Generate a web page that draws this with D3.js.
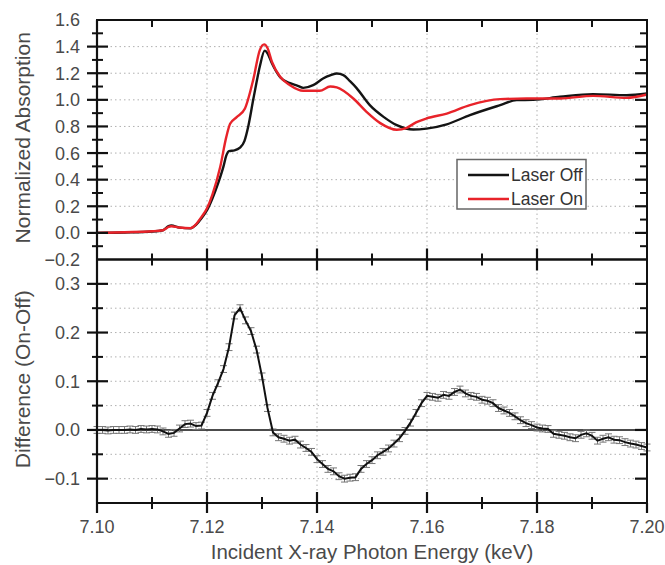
<!DOCTYPE html>
<html>
<head>
<meta charset="utf-8">
<script src="https://cdn.jsdelivr.net/npm/d3@7"></script>
<style>
  html, body { margin: 0; padding: 0; background: #fff; }
  svg { display: block; font-family: "Liberation Sans", Arial, sans-serif; }
</style>
</head>
<body>
<svg id="chart" width="665" height="565"></svg>
<script>
// ---------- DATA ----------
const seriesNames = ["Laser Off", "Laser On"];
const seriesColors = ["#141414", "#e8232a"];

// Laser Off (energy keV, normalized absorption)
const offEnergy = [7.100,7.105,7.110,7.112,7.113,7.1135,7.115,7.117,7.118,7.119,7.120,7.121,7.122,7.123,7.1235,7.124,7.125,7.126,7.1268,7.1275,7.1284,7.129,7.1296,7.1305,7.131,7.1318,7.1333,7.1351,7.1365,7.1375,7.1393,7.1411,7.1425,7.1436,7.1448,7.146,7.1472,7.1496,7.1521,7.1545,7.1575,7.1599,7.1636,7.1678,7.1733,7.1763,7.1793,7.1842,7.1902,7.1963,7.200];
const offValue  = [0.000,0.003,0.010,0.020,0.050,0.055,0.040,0.035,0.060,0.110,0.170,0.260,0.370,0.500,0.580,0.615,0.620,0.640,0.690,0.800,1.000,1.130,1.250,1.370,1.350,1.275,1.170,1.125,1.105,1.090,1.110,1.160,1.185,1.198,1.186,1.140,1.088,0.960,0.872,0.810,0.777,0.784,0.816,0.885,0.960,0.998,1.000,1.023,1.043,1.035,1.048];

// Laser On
const onEnergy = [7.100,7.105,7.110,7.112,7.113,7.1135,7.115,7.117,7.118,7.119,7.120,7.121,7.1224,7.1235,7.1242,7.1254,7.1269,7.1284,7.1296,7.1304,7.131,7.1318,7.1333,7.1351,7.1375,7.1405,7.1424,7.1436,7.1466,7.149,7.1515,7.1545,7.1563,7.158,7.1599,7.1636,7.1678,7.1733,7.1781,7.1842,7.1902,7.1963,7.200];
const onValue  = [0.000,0.005,0.012,0.020,0.045,0.050,0.040,0.036,0.065,0.120,0.185,0.290,0.495,0.720,0.820,0.870,0.935,1.150,1.374,1.417,1.390,1.286,1.173,1.110,1.068,1.068,1.100,1.093,1.010,0.910,0.825,0.775,0.790,0.830,0.860,0.897,0.960,1.005,1.010,1.010,1.030,1.015,1.040];

// Difference (On-Off), sampled every 0.001 keV from 7.100
const diffStart = 7.100, diffStep = 0.001;
const diffValue = [
  0.000,0.000,-0.001,0.000,0.000,0.000,0.001,0.000,0.002,0.001,
  0.002,0.001,-0.003,-0.008,-0.006,0.003,0.012,0.013,0.008,0.009,
  0.035,0.070,0.096,0.125,0.170,0.235,0.250,0.225,0.203,0.165,
  0.110,0.045,-0.005,-0.015,-0.018,-0.022,-0.020,-0.030,-0.037,-0.045,
  -0.060,-0.070,-0.080,-0.085,-0.095,-0.100,-0.098,-0.097,-0.080,-0.070,
  -0.062,-0.052,-0.045,-0.038,-0.028,-0.017,-0.002,0.015,0.035,0.055,
  0.070,0.068,0.066,0.072,0.070,0.078,0.083,0.075,0.070,0.068,
  0.062,0.060,0.055,0.045,0.040,0.035,0.028,0.020,0.014,0.010,
  0.005,0.003,0.002,-0.008,-0.010,-0.012,-0.015,-0.017,-0.010,-0.007,
  -0.012,-0.022,-0.018,-0.015,-0.020,-0.021,-0.025,-0.028,-0.030,-0.033,
  -0.036];
const diffError = 0.007;

const xTicks = [7.10,7.12,7.14,7.16,7.18,7.20];
const xMinorTicks = [7.11,7.13,7.15,7.17,7.19];
const topTicks = [-0.2,0.0,0.2,0.4,0.6,0.8,1.0,1.2,1.4,1.6];
const topMinorTicks = [-0.1,0.1,0.3,0.5,0.7,0.9,1.1,1.3,1.5];
const botTicks = [-0.1,0.0,0.1,0.2,0.3];
const botMinorTicks = [-0.05,0.05,0.15,0.25];

// ---------- LAYOUT ----------
const L = 97, R = 647;
const topY0 = 20, topY1 = 259.5;
const botY0 = 259.5, botY1 = 503;

const svg = d3.select("#chart");
const x = d3.scaleLinear().domain([7.10, 7.20]).range([L, R]);
const yTop = d3.scaleLinear().domain([-0.2, 1.6]).range([topY1, topY0]);
const yBot = d3.scaleLinear().domain([-0.15, 0.35]).range([botY1, botY0]);

const gridColor = "#b0b0b0";
const textColor = "#4a4a4a";

function grid(yScale, yVals, y0, y1) {
  const g = svg.append("g");
  g.selectAll(".hg").data(yVals).join("line")
    .attr("x1", L).attr("x2", R)
    .attr("y1", d => yScale(d)).attr("y2", d => yScale(d))
    .attr("stroke", gridColor).attr("stroke-width", 1).attr("stroke-dasharray", "1.5,3");
  g.selectAll(".vg").data([7.12,7.14,7.16,7.18]).join("line")
    .attr("x1", d => x(d)).attr("x2", d => x(d))
    .attr("y1", y0).attr("y2", y1)
    .attr("stroke", gridColor).attr("stroke-width", 1).attr("stroke-dasharray", "1.5,3");
}

grid(yTop, [0.0,0.2,0.4,0.6,0.8,1.0,1.2,1.4], topY0, topY1);
grid(yBot, [-0.1,-0.05,0.05,0.1,0.15,0.2,0.25,0.3], botY0, botY1);

// zero line in difference panel
svg.append("line").attr("x1", L).attr("x2", R)
  .attr("y1", yBot(0)).attr("y2", yBot(0))
  .attr("stroke", "#111").attr("stroke-width", 1.6);

// ---------- TOP CURVES ----------
const line = d3.line().curve(d3.curveMonotoneX);
const offPts = offEnergy.map((e, i) => [x(e), yTop(offValue[i])]);
const onPts = onEnergy.map((e, i) => [x(e), yTop(onValue[i])]);
svg.append("path").attr("d", line(offPts)).attr("fill", "none")
  .attr("stroke", seriesColors[0]).attr("stroke-width", 2.4);
svg.append("path").attr("d", line(onPts)).attr("fill", "none")
  .attr("stroke", seriesColors[1]).attr("stroke-width", 2.4);

// ---------- DIFFERENCE ----------
const diffPts = diffValue.map((v, i) => ({e: diffStart + i * diffStep, v}));
const eb = svg.append("g").attr("stroke", "#777").attr("stroke-width", 1);
eb.selectAll(".ev").data(diffPts).join("line")
  .attr("x1", d => x(d.e)).attr("x2", d => x(d.e))
  .attr("y1", d => yBot(d.v - diffError)).attr("y2", d => yBot(d.v + diffError));
eb.selectAll(".et").data(diffPts).join("line")
  .attr("x1", d => x(d.e) - 3.5).attr("x2", d => x(d.e) + 3.5)
  .attr("y1", d => yBot(d.v + diffError)).attr("y2", d => yBot(d.v + diffError));
eb.selectAll(".eb").data(diffPts).join("line")
  .attr("x1", d => x(d.e) - 3.5).attr("x2", d => x(d.e) + 3.5)
  .attr("y1", d => yBot(d.v - diffError)).attr("y2", d => yBot(d.v - diffError));
svg.append("path")
  .attr("d", d3.line().x(d => x(d.e)).y(d => yBot(d.v))(diffPts))
  .attr("fill", "none").attr("stroke", "#111").attr("stroke-width", 2);

// ---------- AXES ----------
const ax = svg.append("g").attr("stroke", "#111").attr("stroke-linecap", "butt");
function tickLine(x1, y1, x2, y2, w) {
  ax.append("line").attr("x1", x1).attr("y1", y1).attr("x2", x2).attr("y2", y2)
    .attr("stroke-width", w || 2);
}
// frame
tickLine(L, topY0, L, botY1, 2.2);
tickLine(R, topY0, R, botY1, 2);
tickLine(L - 1, topY0, R + 1, topY0, 2);
tickLine(L - 1, topY1, R + 1, topY1, 2.4);
tickLine(L - 1, botY1, R + 1, botY1, 2.2);

// left y ticks (crossing) and right (inward)
function yTicks(scale, major, minor) {
  major.forEach(v => {
    const yy = scale(v);
    tickLine(L - 10, yy, L + 11, yy, 2.2);
    tickLine(R - 12, yy, R, yy, 2.2);
  });
  minor.forEach(v => {
    const yy = scale(v);
    tickLine(L - 5, yy, L + 6, yy, 2);
    tickLine(R - 7, yy, R, yy, 2);
  });
}
yTicks(yTop, topTicks.filter(v => v > -0.2 && v < 1.6), topMinorTicks);
yTicks(yBot, botTicks, botMinorTicks);

// x ticks
xTicks.filter(v => v > 7.10 && v < 7.20).forEach(v => {
  const xx = x(v);
  tickLine(xx, topY0, xx, topY0 + 12, 2);
  tickLine(xx, topY1 - 11, xx, topY1 + 11, 2.2);
  tickLine(xx, botY1 - 11, xx, botY1 + 10, 2.2);
});
xMinorTicks.forEach(v => {
  const xx = x(v);
  tickLine(xx, topY0, xx, topY0 + 7, 2);
  tickLine(xx, topY1 - 6, xx, topY1 + 6, 2);
  tickLine(xx, botY1 - 6, xx, botY1 + 6, 2);
});
[7.10, 7.20].forEach(v => tickLine(x(v), botY1, x(v), botY1 + 10, 2.2));

// tick labels
const fmt1 = d3.format(".1f"), fmt2 = d3.format(".2f");
svg.append("g").selectAll("text").data(topTicks).join("text")
  .attr("x", 80).attr("y", d => yTop(d)).attr("dy", "0.36em")
  .attr("text-anchor", "end").attr("font-size", 18).attr("fill", textColor)
  .text(d => fmt1(d));
svg.append("g").selectAll("text").data(botTicks).join("text")
  .attr("x", 80).attr("y", d => yBot(d)).attr("dy", "0.36em")
  .attr("text-anchor", "end").attr("font-size", 18).attr("fill", textColor)
  .text(d => fmt1(d));
svg.append("g").selectAll("text").data(xTicks).join("text")
  .attr("x", d => x(d)).attr("y", 533)
  .attr("text-anchor", "middle").attr("font-size", 18).attr("fill", textColor)
  .text(d => fmt2(d));

// axis titles
svg.append("text").attr("x", (L + R) / 2).attr("y", 559)
  .attr("text-anchor", "middle").attr("font-size", 20.5).attr("fill", textColor)
  .text("Incident X-ray Photon Energy (keV)");
svg.append("text").attr("transform", `translate(30,${(topY0 + topY1) / 2 - 2}) rotate(-90)`)
  .attr("text-anchor", "middle").attr("font-size", 21).attr("fill", textColor)
  .text("Normalized Absorption");
svg.append("text").attr("transform", `translate(30,${(botY0 + botY1) / 2 - 2}) rotate(-90)`)
  .attr("text-anchor", "middle").attr("font-size", 21).attr("fill", textColor)
  .text("Difference (On-Off)");

// ---------- LEGEND ----------
const lg = svg.append("g");
lg.append("rect").attr("x", 457).attr("y", 159.5).attr("width", 129).attr("height", 49.5)
  .attr("fill", "#fff").attr("stroke", "#666").attr("stroke-width", 1.5);
seriesNames.forEach((name, i) => {
  const yy = 175 + i * 24;
  lg.append("line").attr("x1", 468).attr("x2", 509).attr("y1", yy).attr("y2", yy)
    .attr("stroke", seriesColors[i]).attr("stroke-width", 2.6);
  lg.append("text").attr("x", 511).attr("y", yy).attr("dy", "0.36em")
    .attr("font-size", 17.5).attr("fill", "#333").text(name);
});
</script>
</body>
</html>
